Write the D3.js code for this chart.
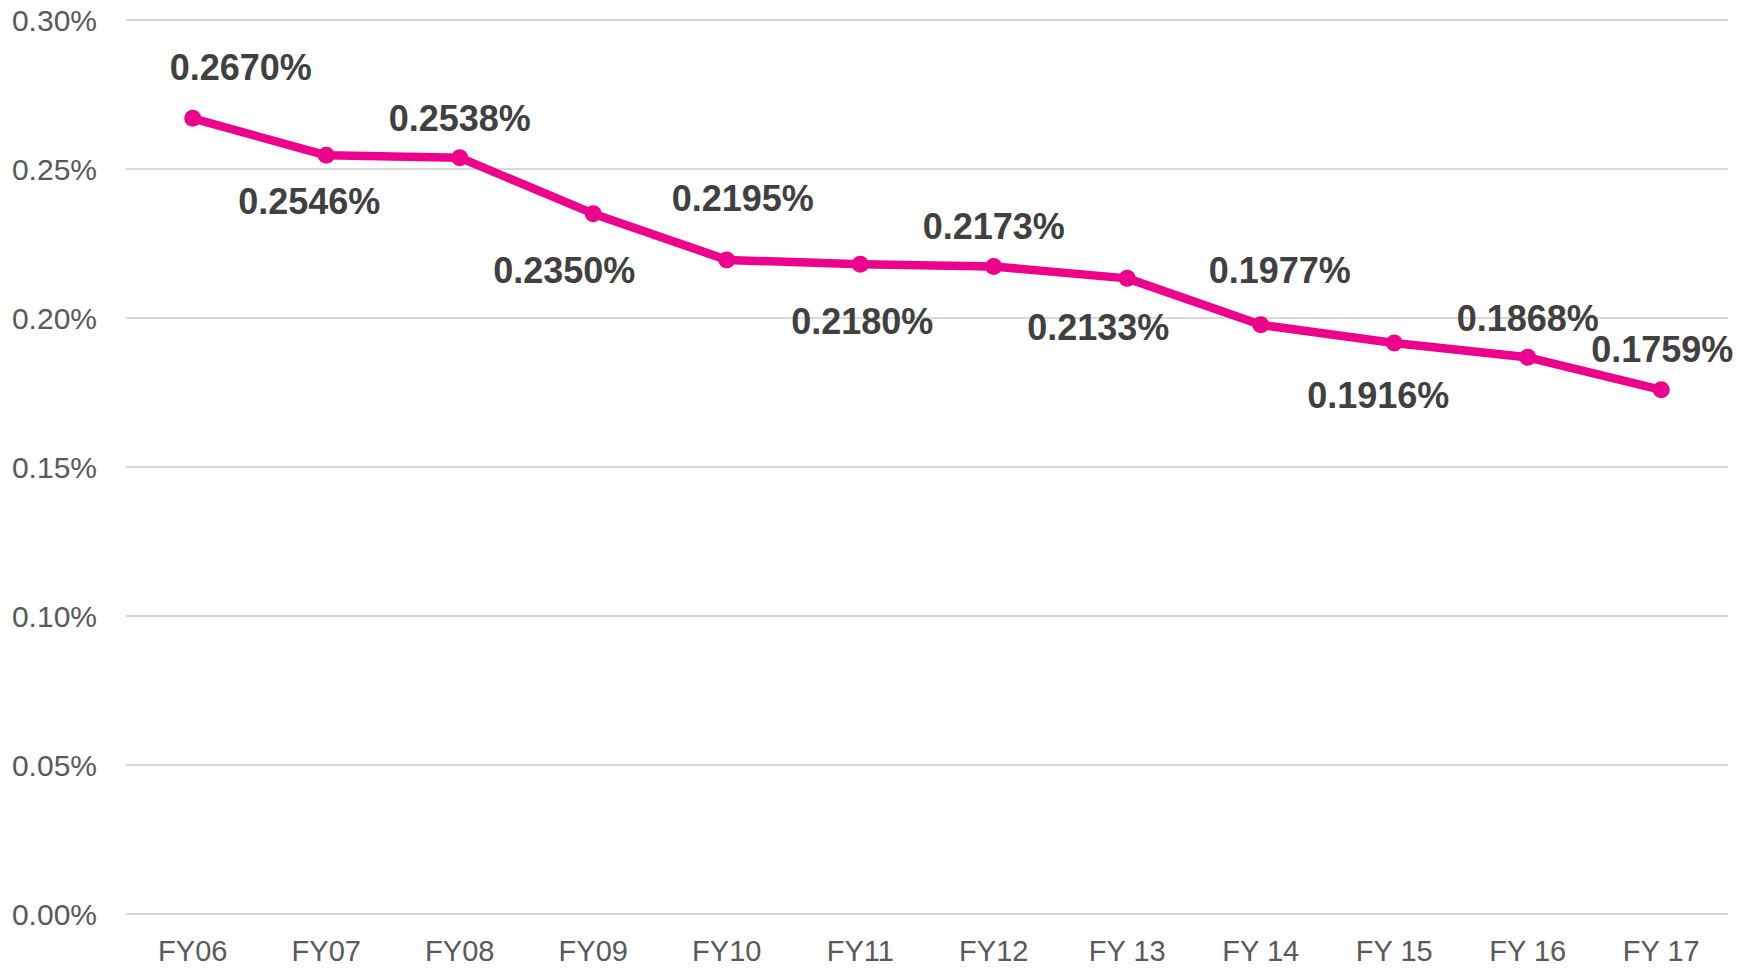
<!DOCTYPE html>
<html>
<head>
<meta charset="utf-8">
<script src="https://cdn.jsdelivr.net/npm/d3@7"></script>
<style>
  html, body { margin: 0; padding: 0; background: #fff; }
  svg { display: block; }
</style>
</head>
<body>
<div id="chart"></div>
<script>
// data
var years = ["FY06", "FY07", "FY08", "FY09", "FY10", "FY11", "FY12", "FY 13", "FY 14", "FY 15", "FY 16", "FY 17"];
var ratios = [0.2670, 0.2546, 0.2538, 0.2350, 0.2195, 0.2180, 0.2173, 0.2133, 0.1977, 0.1916, 0.1868, 0.1759];
var yTicks = [0, 0.05, 0.10, 0.15, 0.20, 0.25, 0.30];

// label nudges (px) relative to each point, as placed in the original
var labelDx = [48, -17, 0, -29, 16, 2, 0, -29, 19, -16, 0, 1];
var labelDy = [-51, 46, -39, 57, -61, 57, -40, 49, -54, 52, -39, -40];

var width = 1754, height = 969;
var margin = { top: 20, right: 26, bottom: 55, left: 126 };

var svg = d3.select("#chart").append("svg")
  .attr("width", width)
  .attr("height", height);

var x = d3.scaleBand()
  .domain(years)
  .range([margin.left, width - margin.right]);

var y = d3.scaleLinear()
  .domain([0, 0.30])
  .range([height - margin.bottom, margin.top]);

// gridlines
svg.append("g")
  .selectAll("line")
  .data(yTicks)
  .enter()
  .append("line")
  .attr("x1", margin.left)
  .attr("x2", width - margin.right)
  .attr("y1", function (d) { return y(d); })
  .attr("y2", function (d) { return y(d); })
  .attr("stroke", "#d9d9d9")
  .attr("stroke-width", 2);

// y axis labels
var yAxis = svg.append("g")
  .attr("transform", "translate(" + (margin.left - 29) + ",0)")
  .call(d3.axisLeft(y).tickValues(yTicks).tickSize(0).tickFormat(function (d) { return d.toFixed(2) + "%"; }));
yAxis.select(".domain").remove();
yAxis.selectAll("text")
  .attr("x", 0)
  .attr("dy", "0.35em")
  .style("font-family", "'Liberation Sans', Arial, sans-serif")
  .style("font-size", "30px")
  .style("fill", "#595959");

// x axis labels
var xAxis = svg.append("g")
  .attr("transform", "translate(0," + (height - margin.bottom) + ")")
  .call(d3.axisBottom(x).tickSize(0));
xAxis.select(".domain").remove();
xAxis.selectAll("text")
  .attr("y", 37)
  .attr("dy", "0.35em")
  .style("font-family", "'Liberation Sans', Arial, sans-serif")
  .style("font-size", "29px")
  .style("fill", "#595959");

var cx = function (d, i) { return x(years[i]) + x.bandwidth() / 2; };

var line = d3.line()
  .x(cx)
  .y(function (d) { return y(d); });

svg.append("path")
  .datum(ratios)
  .attr("d", line)
  .attr("fill", "none")
  .attr("stroke", "#ec008c")
  .attr("stroke-width", 8.5)
  .attr("stroke-linejoin", "round");

svg.append("g")
  .selectAll("circle")
  .data(ratios)
  .enter()
  .append("circle")
  .attr("cx", cx)
  .attr("cy", function (d) { return y(d); })
  .attr("r", 8.5)
  .attr("fill", "#ec008c");

svg.append("g")
  .selectAll("text")
  .data(ratios)
  .enter()
  .append("text")
  .attr("x", function (d, i) { return cx(d, i) + labelDx[i]; })
  .attr("y", function (d, i) { return y(d) + labelDy[i]; })
  .attr("dy", "0.35em")
  .attr("text-anchor", "middle")
  .style("font-family", "'Liberation Sans', Arial, sans-serif")
  .style("font-weight", "bold")
  .style("font-size", "36px")
  .style("fill", "#404040")
  .text(function (d) { return d.toFixed(4) + "%"; });
</script>
</body>
</html>
